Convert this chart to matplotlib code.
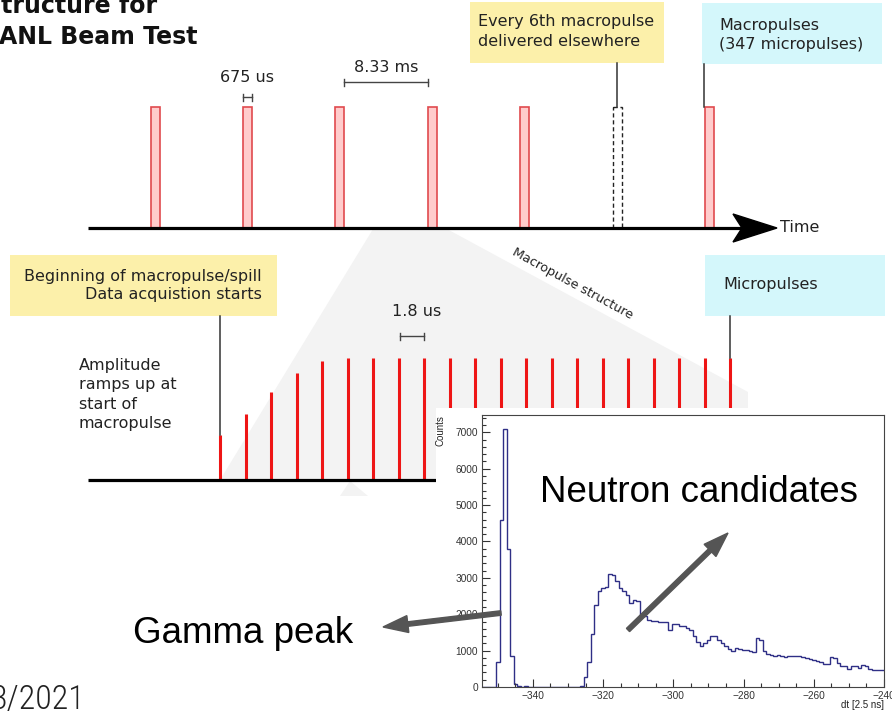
import numpy as np
import matplotlib
matplotlib.use("Agg")
import matplotlib.pyplot as plt
from matplotlib.patches import Rectangle, Polygon, FancyArrow
from matplotlib.ticker import MultipleLocator

W, H = 892, 711

# ---------------- data ----------------
macro_slots = [0, 1, 2, 3, 4, 5, 6]          # macropulses, 8.33 ms apart
macro_delivered = [1, 1, 1, 1, 1, 0, 1]      # every 6th delivered elsewhere
micro_amp = [0.37, 0.54, 0.72, 0.88, 0.975] + [1.0] * 16   # relative amplitude of micropulses

dt_bins = np.arange(-354, -239)              # dt [2.5 ns], bin centres
counts = [0, 0, 0, 0, 700, 4600, 7100, 3800, 850, 80, 20, 0, 30, 0, 0,
          0, 0, 0, 10, 0, 0, 0, 0, 10, 0, 0, 0, 0, 30,
          280, 700, 1450, 2250, 2650, 2720, 2760, 3100, 3080, 2920, 2730, 2650, 2530, 2300, 2380,
          2350, 1950, 1940, 1850, 1820, 1820, 1800, 1780, 1775, 1570, 1730, 1730, 1665, 1665, 1620,
          1575, 1390, 1225, 1135, 1210, 1300, 1410, 1410, 1300, 1210, 1115, 1040, 980, 1070, 1050,
          1025, 1006, 980, 960, 1345, 1300, 1000, 915, 890, 860, 880, 840, 823, 860, 860,
          850, 860, 823, 796, 770, 730, 710, 680, 640, 640, 823, 800, 660, 585, 585,
          495, 567, 567, 520, 595, 580, 495, 458, 458, 475, 475]
assert len(counts) == len(dt_bins)

# ---------------- figure ----------------
fig = plt.figure(figsize=(W / 100, H / 100), dpi=100)
ax = fig.add_axes([0, 0, 1, 1])
ax.set_xlim(0, W)
ax.set_ylim(H, 0)
ax.axis("off")

YELLOW = "#fcf0aa"
CYAN = "#d4f7fb"
FS = 11.5

# layout of the schematic (pixel frame)
top_axis_y, top_bar_top = 228, 107
x0_macro, dx_macro = 155, 92.4
low_axis_y, micro_full = 480, 122
x0_micro, dx_micro = 220, 25.5

# grey zoom wedge
ax.add_patch(Polygon([(373, 229), (447, 229), (748, 392), (748, 480), (220, 480)],
                     closed=True, facecolor="#f3f3f3", edgecolor="none", zorder=1))
ax.add_patch(Polygon([(340, 496), (350, 481), (368, 496)], closed=True,
                     facecolor="#f3f3f3", edgecolor="none", zorder=1))

# title (clipped)
ax.text(157, 13, "Structure for", ha="right", va="baseline", fontsize=17,
        fontweight="bold", color="#111111", zorder=6)
ax.text(-1, 44, "ANL Beam Test", ha="left", va="baseline", fontsize=17,
        fontweight="bold", color="#111111", zorder=6)

# ---- top: macropulses ----
mx = [x0_macro + s * dx_macro for s in macro_slots]
for x, d in zip(mx, macro_delivered):
    if d:
        ax.bar(x, top_axis_y - top_bar_top, bottom=top_bar_top, width=9,
               facecolor="#ffcccc", edgecolor="#e04a4e", linewidth=1.2, zorder=2)
    else:
        ax.bar(x, top_axis_y - top_bar_top, bottom=top_bar_top, width=9,
               facecolor="white", edgecolor="#222222", linewidth=1.0,
               linestyle=(0, (3, 2)), zorder=2)
ax.plot([88, 745], [top_axis_y, top_axis_y], color="black", lw=2.3, zorder=3,
        solid_capstyle="butt")
ax.add_patch(Polygon([(777, top_axis_y), (733, top_axis_y - 14), (742, top_axis_y),
                      (733, top_axis_y + 14)], closed=True, facecolor="black",
                     edgecolor="black", zorder=3))
ax.text(780, top_axis_y - 1, "Time", ha="left", va="center", fontsize=FS, color="#222222")


def bracket(x1, x2, y):
    ax.plot([x1, x2], [y, y], color="#444444", lw=1)
    ax.plot([x1, x1], [y - 3.5, y + 3.5], color="#444444", lw=1)
    ax.plot([x2, x2], [y - 3.5, y + 3.5], color="#444444", lw=1)


bracket(mx[1] - 4.5, mx[1] + 4.5, 97)
ax.text(mx[1], 77, "675 us", ha="center", va="center", fontsize=FS, color="#222222")
bracket(mx[2] + 4.5, mx[3] - 4.5, 82)
ax.text((mx[2] + mx[3]) / 2, 67, "8.33 ms", ha="center", va="center", fontsize=FS,
        color="#222222")

# boxes top
ax.add_patch(Rectangle((470, 2), 194, 61, facecolor=YELLOW, edgecolor="none", zorder=2))
ax.text(478, 31.5, "Every 6th macropulse\ndelivered elsewhere", ha="left", va="center",
        fontsize=FS, linespacing=1.35, color="#222222", zorder=4)
ax.add_patch(Rectangle((702, 3), 180, 61, facecolor=CYAN, edgecolor="none", zorder=2))
ax.text(719, 35, "Macropulses\n(347 micropulses)", ha="left", va="center",
        fontsize=FS, linespacing=1.35, color="#222222", zorder=4)
ax.plot([mx[5], mx[5]], [63, top_bar_top], color="#333333", lw=1.1, zorder=3)
ax.plot([mx[6] - 5, mx[6] - 5], [64, top_bar_top], color="#333333", lw=1.1, zorder=3)

ax.text(573, 284, "Macropulse structure", rotation=-28.6, ha="center", va="center",
        fontsize=9.2, color="#222222", rotation_mode="anchor")

# ---- lower: micropulses ----
ux = [x0_micro + i * dx_micro for i in range(len(micro_amp))]
ax.vlines(ux, low_axis_y, [low_axis_y - a * micro_full for a in micro_amp],
          color="#ee1515", lw=2.2, zorder=2)
ax.plot([88, 440], [low_axis_y, low_axis_y], color="black", lw=2.3, zorder=3,
        solid_capstyle="butt")
bracket(ux[7] + 1, ux[8], 336)
ax.text(417, 312, "1.8 us", ha="center", va="center", fontsize=FS, color="#222222")

ax.add_patch(Rectangle((10, 255), 267, 61, facecolor=YELLOW, edgecolor="none", zorder=2))
ax.text(262, 285.5, "Beginning of macropulse/spill\nData acquistion starts", ha="right",
        va="center", fontsize=FS, linespacing=1.3, color="#222222", zorder=4)
ax.add_patch(Rectangle((705, 255), 180, 61, facecolor=CYAN, edgecolor="none", zorder=2))
ax.text(723, 285, "Micropulses", ha="left", va="center", fontsize=FS, color="#222222",
        zorder=4)
ax.plot([ux[0], ux[0]], [316, low_axis_y - micro_amp[0] * micro_full], color="#333333",
        lw=1.1, zorder=3)
ax.plot([ux[-1], ux[-1]], [316, low_axis_y - micro_full], color="#333333", lw=1.1, zorder=3)

ax.text(79, 394.5, "Amplitude\nramps up at\nstart of\nmacropulse", ha="left", va="center",
        fontsize=FS, linespacing=1.37, color="#222222")

# date (clipped)
ax.text(-10, 709, "3/2021", ha="left", va="baseline", fontsize=24.5,
        family=["Roboto Condensed", "DejaVu Sans"], fontstretch="condensed",
        fontweight="light", color="#222222")

# white background of the histogram picture
ax.add_patch(Rectangle((436, 408), W - 436, H - 408, facecolor="white", edgecolor="none",
                       zorder=10))
ax.text(441, 415, "Counts", rotation=90, ha="center", va="top", fontsize=7,
        family="Liberation Sans", color="#222222", zorder=11)
ax.text(884, 705, "dt [2.5 ns]", ha="right", va="center", fontsize=7,
        family="Liberation Sans", color="#222222", zorder=11)

# ---------------- histogram inset ----------------
hx = fig.add_axes([482 / W, (H - 687) / H, (884 - 482) / W, (687 - 415) / H])
hx.set_facecolor("white")
edges = np.append(dt_bins - 0.5, dt_bins[-1] + 0.5)
hx.stairs(counts, edges, color="#2f2f86", lw=1.0)
hx.set_xlim(-354.5, -240)
hx.set_ylim(0, 7475)
hx.xaxis.set_major_locator(MultipleLocator(20))
hx.xaxis.set_minor_locator(MultipleLocator(5))
hx.yaxis.set_major_locator(MultipleLocator(1000))
hx.yaxis.set_minor_locator(MultipleLocator(200))
hx.tick_params(which="both", direction="in", colors="#333333", labelsize=7.3,
               top=False, right=False, width=0.8)
hx.tick_params(which="major", length=6)
hx.tick_params(which="minor", length=3)
hx.tick_params(axis="y", pad=3)
hx.tick_params(axis="x", pad=3)
for lab in hx.get_xticklabels() + hx.get_yticklabels():
    lab.set_family("Liberation Sans")
for sp in hx.spines.values():
    sp.set_color("#444444")
    sp.set_linewidth(0.8)

# ---------------- overlay: arrows + big labels ----------------
ov = fig.add_axes([0, 0, 1, 1])
ov.set_xlim(0, W)
ov.set_ylim(H, 0)
ov.axis("off")
ov.patch.set_alpha(0)


def arrow(tail, tip):
    ov.add_patch(FancyArrow(tail[0], tail[1], tip[0] - tail[0], tip[1] - tail[1],
                            width=4.5, head_width=17, head_length=25,
                            length_includes_head=True, color="#555555", zorder=5))


arrow((501, 613), (383, 627))
arrow((628, 630), (728, 533))
ov.text(133, 643, "Gamma peak", ha="left", va="baseline", fontsize=26.5,
        family="Liberation Sans", color="black")
ov.text(540, 502, "Neutron candidates", ha="left", va="baseline", fontsize=26.5,
        family="Liberation Sans", color="black")

fig.savefig("out.png", dpi=100)
